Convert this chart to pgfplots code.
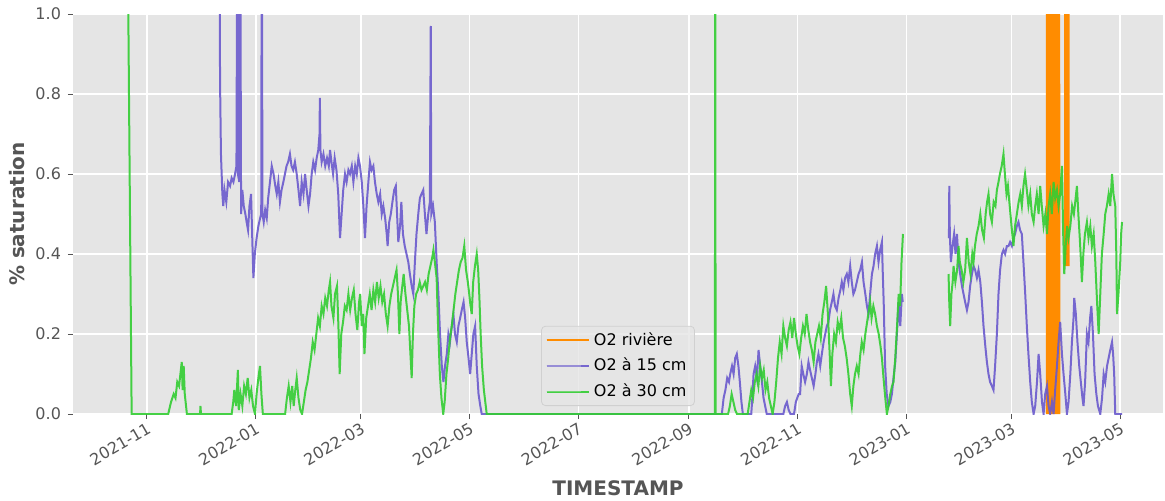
\documentclass[border=0pt]{standalone}
\usepackage{pgfplots}
\pgfplotsset{compat=1.18}
\usepackage{fontspec}
\setmainfont{DejaVu Sans}
\definecolor{bgc}{HTML}{E5E5E5}
\definecolor{tickc}{HTML}{555555}
\definecolor{c15}{HTML}{6A5ACD}
\definecolor{c30}{HTML}{32CD32}
\definecolor{criv}{HTML}{FF8C00}
\definecolor{legedge}{HTML}{D0D0D0}
\begin{document}
\begin{tikzpicture}
\begin{axis}[
 scale only axis, width=545pt, height=200pt,
 xmin=-41.5, xmax=570, ymin=0, ymax=1,
 axis background/.style={fill=bgc},
 axis line style={draw=none},
 grid=major, major grid style={white, line width=0.8pt},
 xtick={0,61,120,181,242,304,365,426,485,546},
 xticklabels={2021-11,2022-01,2022-03,2022-05,2022-07,2022-09,2022-11,2023-01,2023-03,2023-05},
 ytick={0,0.2,0.4,0.6,0.8,1.0},
 tick align=outside, xtick pos=bottom, ytick pos=left,
 major tick length=2.5pt,
 tick style={tickc, line width=0.5pt},
 ticklabel style={font=\fontsize{8}{9}\selectfont, text=tickc},
 xticklabel style={rotate=30, anchor=north east, inner sep=1pt},
 yticklabel style={/pgf/number format/.cd, fixed, fixed zerofill, precision=1, /tikz/.cd},
 /pgf/number format/assume math mode=true,
 xlabel={TIMESTAMP}, ylabel={\% saturation},
 every axis x label/.style={at={(axis description cs:0.5,0)}, anchor=center, yshift=-37pt},
 every axis y label/.style={at={(axis description cs:-0.0514,0.5)}, rotate=90, anchor=center},
 label style={font=\bfseries\fontsize{10}{12}\selectfont, text=tickc},
 unbounded coords=jump,
 legend style={at={(0.5,0.02)}, anchor=south, fill=bgc, fill opacity=0.8, text opacity=1, draw=legedge, rounded corners=2pt, font=\fontsize{8}{10}\selectfont, inner xsep=2pt, inner ysep=1pt, row sep=1pt},
 legend cell align=left,
]
% O2 riviere
\addplot[criv, line width=1.2pt, legend image code/.code={\path (0pt,0pt) -- (21pt,0pt); \draw[criv, line width=1.2pt] (0pt,0pt) -- (17pt,0pt);}] coordinates {
(505.0,0) (505.0,1.3) (505.3,0) (505.6,1.3) (505.9,0) (506.2,1.3) (506.5,0) (506.8,1.3) (507.05,0) (507.45,0.39) (507.75,0) (508.0,1.3) (508.3,0) (508.6,1.3) (508.9,0) (509.2,1.3) (509.5,0) (509.8,1.3) (510.1,0) (510.4,1.3) (510.7,0) (511.0,1.3) (511.3,0) (511.6,1.3) (511.8,0)
(513,nan)
(515.2,0.37) (515.2,1.3) (515.6,0.37) (516.0,1.3) (516.4,0.37) (516.8,1.3) (517.0,0.37)
};
\addlegendentry{O2 rivière}
% O2 a 15 cm
\addplot[c15, line width=1pt, opacity=0.9, legend image code/.code={\path (0pt,0pt) -- (21pt,0pt); \draw[c15!60!bgc, line width=0.6pt] (0pt,0pt) -- (17pt,0pt);}] coordinates {
(40.6,1.3) (41.0,0.83) (41.5,0.65) (42.3,0.55) (42.8,0.52) (43.5,0.56) (44.5,0.53) (45.5,0.58) (46.6,0.57) (47.5,0.59) (48.5,0.58) (49.4,0.6) (50.2,0.62) (50.7,1.3) (51.0,0.6) (51.8,0.58) (52.3,1.3) (52.8,0.5) (53.5,0.56) (54.3,0.52) (55.2,0.5) (55.9,0.48) (56.7,0.46) (57.5,0.52) (58.4,0.55) (59,0.45) (59.7,0.34) (60.5,0.4) (61.5,0.44) (62.5,0.47) (63.5,0.49) (64.1,0.5) (64.4,1.3) (64.8,0.5) (65.5,0.48) (66.3,0.51) (67.2,0.49) (68,0.54) (69,0.58) (70,0.62) (71,0.6) (72,0.57) (72.8,0.55) (73.7,0.58) (74.6,0.53) (75.5,0.56) (76.5,0.58) (77.4,0.6) (78.3,0.62) (79.2,0.63) (80.2,0.65) (81.1,0.62) (82,0.61) (83,0.63) (84,0.6) (85,0.56) (85.9,0.52) (86.8,0.58) (87.8,0.55) (88.7,0.6) (89.6,0.56) (90.6,0.52) (91.5,0.55) (92.4,0.6) (93.3,0.63) (94.3,0.61) (95.2,0.64) (96.1,0.66) (96.8,0.7) (97,0.79) (97.3,0.66) (98,0.63) (99,0.65) (100,0.62) (101,0.64) (102,0.62) (102.7,0.66) (103.5,0.63) (104.4,0.6) (105.3,0.64) (106.3,0.61) (107.3,0.55) (108.3,0.44) (109.2,0.5) (110.1,0.56) (111.1,0.6) (112,0.58) (113,0.61) (113.9,0.6) (114.9,0.62) (115.8,0.58) (116.8,0.62) (117.7,0.6) (118.6,0.64) (119.5,0.62) (120.5,0.58) (121.4,0.52) (122.3,0.44) (123.2,0.52) (124.2,0.58) (125.1,0.63) (126,0.61) (127,0.62) (127.9,0.58) (128.9,0.55) (129.8,0.53) (130.8,0.55) (131.7,0.5) (132.6,0.52) (133.6,0.49) (134.5,0.45) (135,0.42) (135.9,0.48) (136.8,0.5) (137.7,0.53) (138.7,0.56) (139.6,0.57) (140.3,0.5) (141,0.43) (142,0.47) (142.7,0.53) (143.6,0.45) (144.6,0.42) (145.6,0.4) (146.6,0.38) (147.5,0.35) (148.5,0.32) (149.4,0.3) (150.3,0.38) (151.2,0.45) (152.2,0.5) (153.1,0.54) (154,0.55) (155,0.56) (155.9,0.5) (156.8,0.45) (157.8,0.5) (158.7,0.53) (159.2,0.97) (159.5,0.5) (160.5,0.52) (161.5,0.48) (162.5,0.38) (163.5,0.3) (164.4,0.2) (165.4,0.12) (166.3,0.08) (167.2,0.12) (168.2,0.15) (169.1,0.2) (170,0.18) (171,0.22) (171.9,0.25) (172.8,0.2) (173.8,0.18) (174.7,0.22) (175.7,0.24) (176.6,0.26) (177.6,0.28) (178.5,0.24) (179.4,0.18) (180.4,0.14) (181.3,0.1) (182.2,0.15) (183.1,0.2) (184.1,0.22) (185,0.12) (186,0.05) (187,0.02) (187.8,0) (322.5,0) (323.5,0.04) (324.5,0.06) (325.5,0.09) (326.5,0.08) (327.2,0.1) (328.2,0.12) (329.1,0.1) (330,0.14) (330.9,0.15) (331.8,0.12) (332.6,0.08) (333.5,0.03) (334.3,0) (339,0) (339.6,0.04) (340.3,0.1) (341.2,0.12) (342.2,0.09) (343.1,0.16) (344,0.12) (345,0.08) (345.9,0.04) (346.8,0.02) (347.7,0) (357,0) (358,0.02) (359,0.03) (360,0.01) (361,0) (363,0) (364,0.03) (365.6,0.05) (366.4,0.05) (367.3,0.12) (368.2,0.1) (369.2,0.08) (370.2,0.1) (371.1,0.13) (372,0.11) (373,0.09) (374,0.07) (375,0.1) (375.8,0.13) (376.7,0.15) (377.7,0.12) (378.6,0.15) (379.6,0.18) (380.5,0.2) (381.4,0.22) (382.3,0.23) (383.2,0.26) (384.2,0.28) (385.1,0.3) (386,0.27) (387,0.26) (388,0.29) (389,0.31) (389.8,0.33) (390.7,0.31) (391.6,0.34) (392.6,0.35) (393.5,0.33) (394.5,0.37) (395.4,0.33) (396.3,0.3) (397.2,0.31) (398.2,0.33) (399.2,0.35) (400.1,0.36) (401.1,0.38) (402,0.33) (403,0.3) (403.9,0.27) (404.8,0.25) (405.7,0.3) (406.7,0.35) (407.6,0.37) (408.5,0.4) (409.5,0.42) (410.4,0.38) (411.3,0.41) (412.3,0.43) (412.8,0.35) (413.3,0.28) (414.1,0.12) (415,0.05) (416,0.02) (417,0.03) (417.9,0.05) (418.8,0.09) (419.8,0.13) (420.7,0.2) (421.7,0.28) (422.6,0.22) (423.5,0.3) (424,0.28)
(437,nan)
(449.9,0.44) (450.1,0.57) (450.4,0.45) (451,0.38) (451.9,0.42) (452.8,0.45) (453.6,0.4) (454.4,0.45) (455.3,0.38) (456.2,0.35) (457.2,0.32) (458.1,0.3) (459,0.28) (460,0.26) (460.9,0.28) (461.8,0.32) (462.8,0.35) (463.7,0.37) (464.6,0.36) (465.6,0.34) (466.5,0.36) (467.5,0.33) (468.4,0.28) (469.3,0.22) (470.3,0.17) (471.2,0.13) (472.1,0.1) (473,0.08) (474,0.07) (474.9,0.06) (475.8,0.12) (476.8,0.2) (477.7,0.3) (478.6,0.36) (479.6,0.4) (480.5,0.41) (481.4,0.4) (482.4,0.42) (483.3,0.42) (484.2,0.43) (485.2,0.42) (486.1,0.44) (487,0.45) (488,0.47) (488.9,0.48) (489.8,0.46) (490.8,0.45) (491.7,0.38) (492.7,0.3) (493.6,0.22) (494.5,0.15) (495.5,0.08) (496.4,0.03) (497.4,0.0) (498.3,0.02) (499.3,0.08) (500.2,0.15) (501.1,0.1) (502.1,0.03) (503,0.0) (503.9,0.05) (504.9,0.07) (505.8,0.02) (506.7,0.0) (507.7,0.03) (508.6,0.0) (509.5,0.06) (510.5,0.12) (511.4,0.18) (512.3,0.23) (513.3,0.15) (514.2,0.1) (515.2,0.05) (516.1,0.0) (517,0.03) (518,0.1) (518.9,0.18) (519.8,0.24) (520.2,0.29) (521.1,0.25) (522,0.18) (523,0.12) (523.9,0.08) (524.8,0.04) (525.4,0.02) (526.3,0.08) (527.3,0.2) (528.2,0.18) (529.1,0.24) (529.8,0.27) (530.7,0.2) (531.6,0.1) (532.6,0.05) (533.5,0.02) (534.8,0) (535.8,0.04) (536.7,0.1) (537.6,0.08) (538.6,0.12) (539.5,0.14) (540.4,0.16) (541.4,0.18) (542,0.15) (542.6,0.1) (543.2,0.0) (547,0)
};
\addlegendentry{O2 à 15 cm}
% O2 a 30 cm
\addplot[c30, line width=1pt, opacity=0.9, legend image code/.code={\path (0pt,0pt) -- (21pt,0pt); \draw[c30!60!bgc, line width=0.6pt] (0pt,0pt) -- (17pt,0pt);}] coordinates {
(-10.5,1.02) (-8.6,0) (11.9,0) (13.5,0.03) (15,0.05) (16,0.04) (17,0.08) (18,0.07) (19,0.11) (19.5,0.13) (20,0.06) (20.6,0.12) (21.2,0.05) (22.4,0) (29.8,0) (30,0.02) (30.3,0) (47.5,0) (48.4,0.03) (49,0.06) (50,0.02) (51,0.11) (51.5,0.01) (52.5,0.05) (53.5,0.02) (54.5,0.07) (55.5,0.05) (56.5,0.09) (57.5,0.04) (58.5,0.06) (59.5,0.02) (60.6,0) (61.5,0.05) (62.5,0.09) (63.4,0.12) (64.2,0.05) (65,0) (77.5,0) (78.5,0.04) (79.5,0.07) (80.5,0.03) (81.5,0.07) (82.3,0.02) (83.2,0.06) (84,0.09) (85,0.04) (86,0.01) (87,0) (88,0.03) (89,0.06) (90,0.08) (91,0.11) (92,0.14) (93,0.18) (94,0.16) (95,0.2) (96,0.24) (97,0.22) (98,0.27) (99,0.25) (100,0.29) (101,0.27) (102,0.31) (102.7,0.33) (103.5,0.27) (104.6,0.24) (105.5,0.30) (106.6,0.32) (107.4,0.22) (108.1,0.1) (109,0.2) (110,0.23) (111,0.27) (112,0.26) (113,0.30) (114,0.26) (115,0.29) (116,0.31) (117,0.25) (118,0.21) (119,0.28) (119.6,0.30) (120.5,0.22) (121.3,0.25) (122,0.15) (123,0.24) (124,0.27) (125,0.30) (126,0.26) (127,0.31) (128,0.28) (129,0.33) (130,0.29) (131,0.32) (132,0.28) (133,0.30) (134,0.25) (135,0.22) (136,0.27) (137,0.3) (138,0.32) (139,0.34) (140,0.36) (140.8,0.30) (141.6,0.2) (142.3,0.28) (143,0.31) (144,0.35) (145,0.3) (146,0.26) (147,0.22) (147.8,0.15) (148.5,0.09) (149.2,0.2) (150,0.27) (151,0.3) (152,0.31) (153,0.33) (154,0.31) (155,0.32) (156,0.33) (157,0.31) (158,0.35) (159,0.37) (160,0.39) (160.7,0.41) (161.5,0.38) (162.5,0.34) (163.3,0.22) (164.3,0.1) (165.2,0.04) (166.2,0.0) (167,0.03) (168,0.1) (169,0.14) (170,0.19) (171,0.22) (172,0.26) (173,0.3) (174,0.33) (175,0.36) (176,0.38) (177,0.39) (178,0.42) (179,0.36) (180,0.33) (180.8,0.30) (181.5,0.27) (182.2,0.25) (183,0.33) (184,0.37) (185,0.40) (185.8,0.36) (186.5,0.29) (187.2,0.2) (188,0.12) (189,0.06) (190.6,0) (318.6,0) (318.8,1.3) (319.0,0) (326,0) (327,0.02) (328,0.05) (329,0.03) (330,0.01) (331,0.0) (337,0) (338,0.03) (339,0.06) (340,0.04) (341,0.08) (342,0.1) (343,0.07) (344,0.12) (345,0.09) (346,0.11) (347,0.06) (348,0.08) (349,0.04) (350,0.02) (351,0) (352,0.03) (353,0.08) (354,0.14) (355,0.18) (356,0.15) (357,0.22) (358,0.19) (359,0.17) (360,0.21) (361,0.23) (362,0.19) (363,0.24) (364,0.2) (365,0.17) (366,0.15) (367,0.19) (368,0.22) (369,0.2) (370,0.25) (371,0.21) (372,0.18) (373,0.16) (374,0.13) (375,0.18) (376,0.2) (377,0.22) (378,0.19) (379,0.25) (380,0.28) (381,0.32) (382,0.25) (383,0.15) (383.7,0.07) (384.5,0.15) (385.5,0.2) (386.5,0.18) (387.5,0.23) (388.5,0.21) (389.5,0.24) (390.5,0.19) (391.5,0.17) (392.5,0.14) (393.5,0.10) (394.5,0.05) (395.4,0.02) (396.3,0.07) (397.2,0.1) (398.2,0.12) (399.2,0.10) (400.2,0.15) (401,0.18) (402,0.16) (403,0.2) (404,0.23) (405,0.26) (405.7,0.28) (406.5,0.24) (407.5,0.27) (408.5,0.25) (409.5,0.22) (410.5,0.2) (411.5,0.17) (412.3,0.14) (413.2,0.09) (414.2,0.04) (415.1,0.0) (416,0.02) (417,0.05) (418,0.07) (418.8,0.08) (419.8,0.14) (420.8,0.22) (421.7,0.3) (422.5,0.27) (423.3,0.38) (424.1,0.45)
(437,nan)
(449.7,0.35) (450.0,0.29) (450.6,0.22) (451.3,0.30) (452,0.33) (452.5,0.37) (453.5,0.33) (454.5,0.36) (455.3,0.42) (456,0.38) (457,0.36) (458,0.33) (459,0.36) (460,0.44) (461,0.38) (462,0.35) (463,0.40) (463.7,0.38) (464.5,0.42) (465.5,0.45) (466.5,0.47) (467.5,0.5) (468.5,0.46) (469.5,0.44) (470.5,0.5) (471.3,0.53) (472.1,0.55) (473,0.5) (474,0.48) (475,0.53) (476,0.52) (476.8,0.56) (477.7,0.58) (478.5,0.6) (479.5,0.62) (480.5,0.65) (481.3,0.6) (482.2,0.55) (483,0.57) (484,0.52) (485,0.47) (486.1,0.42) (487,0.47) (488,0.5) (489,0.53) (489.9,0.55) (490.8,0.52) (491.7,0.57) (492.6,0.60) (493.6,0.56) (494.5,0.52) (495.5,0.55) (496.4,0.5) (497.4,0.48) (498.3,0.52) (499.2,0.55) (500.2,0.5) (501.1,0.57) (502,0.52) (503,0.47) (504,0.5) (504.9,0.45) (505.8,0.52) (506.7,0.55) (507.6,0.5) (508.6,0.58) (509.5,0.54) (510.5,0.56) (511.4,0.52) (512.3,0.55) (513.3,0.62) (514,0.45) (514.6,0.35) (515.4,0.42) (516.2,0.47) (517,0.44) (518,0.47) (519,0.52) (520,0.5) (521,0.54) (521.7,0.57) (522.5,0.5) (523.3,0.44) (524,0.38) (524.5,0.33) (525.3,0.4) (526.2,0.45) (527.3,0.48) (528.2,0.44) (529.2,0.47) (530.1,0.42) (531.1,0.45) (532,0.38) (533,0.28) (533.9,0.2) (534.8,0.3) (535.7,0.4) (536.7,0.45) (537.6,0.5) (538.5,0.52) (539.5,0.55) (540.4,0.52) (541.4,0.6) (542.2,0.55) (543.2,0.52) (543.8,0.4) (544.2,0.25) (545,0.3) (546,0.38) (546.5,0.45) (547,0.48)
};
\addlegendentry{O2 à 30 cm}
\end{axis}
\pgfresetboundingbox
\path[use as bounding box] ([xshift=-36.5pt,yshift=-43pt]current axis.south west) rectangle ([xshift=1pt,yshift=7pt]current axis.north east);
\end{tikzpicture}
\end{document}
